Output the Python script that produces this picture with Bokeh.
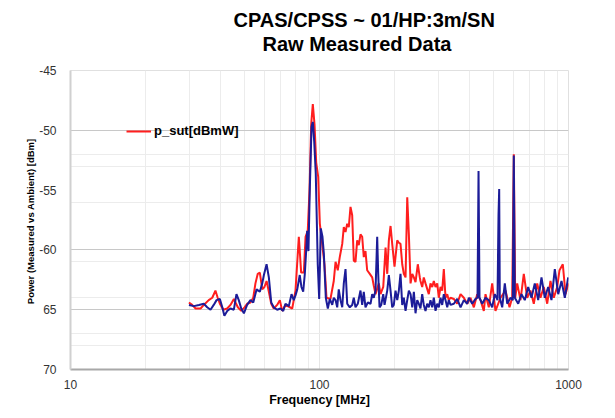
from bokeh.plotting import figure
from bokeh.models import Range1d, FixedTicker, Grid, PrintfTickFormatter, Title
from bokeh.embed import file_html
from bokeh.resources import INLINE

title_line1 = "CPAS/CPSS ~ 01/HP:3m/SN"
title_line2 = "Raw Measured Data"
x_label = "Frequency [MHz]"
y_label = "Power (Measured vs Ambient)  [dBm]"
legend_red = "p_sut[dBmW]"

x_ticks = [10, 100, 1000]
x_minor = [20, 30, 40, 50, 60, 70, 80, 90, 200, 300, 400, 500, 600, 700, 800, 900]
y_ticks = [-70, -65, -60, -55, -50, -45]
y_tick_text = {-70: "70", -65: "65", -60: "-60", -55: "-55", -50: "-50", -45: "-45"}
y_grid_major = [-50, -60, -65]
y_grid_minor = [-52, -53, -56, -61, -64, -67, -68]

red_freq = [
    29.9, 30.8, 31.8, 33.3, 34.3, 35.9, 37.1, 38.2, 39.0, 39.8,
    41.1, 42.6, 43.9, 45.3, 46.0, 47.0, 48.5, 50.0, 51.2, 52.8,
    54.2, 55.3, 56.5, 57.6, 58.9, 60.1, 61.3, 62.6, 64.0, 65.5,
    67.6, 69.3, 70.8, 73.0, 77.7, 80.1, 82.6, 84.4, 86.5, 87.9,
    89.7, 91.2, 92.6, 94.0, 95.5, 97.0, 98.8, 100.3, 102.5, 104.7,
    106.7, 110.7, 114.1, 116.0, 118.4, 120.6, 123.4, 125.2, 127.2, 129.2,
    131.1, 133.2, 135.3, 137.3, 139.5, 141.7, 143.8, 146.1, 148.4, 150.6,
    153.0, 155.4, 159.2, 162.8, 165.2, 167.9, 173.1, 175.8, 180.3, 184.2,
    187.1, 189.9, 192.9, 195.9, 200.1, 205.2, 208.3, 211.5, 214.9, 218.1,
    221.6, 225.1, 228.5, 232.1, 235.8, 239.3, 243.0, 248.2, 252.8, 254.4,
    258.5, 262.3, 266.5, 274.8, 279.1, 283.6, 287.8, 292.4, 297.0, 301.4,
    306.2, 311.0, 315.7, 320.7, 325.8, 330.6, 335.9, 346.3, 357.3, 368.5,
    379.9, 392.0, 404.1, 416.7, 429.9, 443.3, 457.0,
    464.2, 478.6, 493.8, 509.0, 533.3, 558.5, 579.6, 594.2, 603.0, 610.9,
    622.3, 641.5, 661.4, 682.5, 703.7, 725.5, 748.6, 771.8, 795.7, 821.2,
    846.5, 873.0, 900.8, 920.2, 948.7, 972.7, 1000.0,
]
red_dbm = [
    -64.4, -64.6, -64.9, -64.9, -64.6, -64.2, -64.0, -63.4, -64.0, -64.5,
    -65.0, -64.9, -64.6, -64.1, -64.4, -64.8, -65.1, -64.8, -64.5, -64.4,
    -64.0, -62.8, -62.0, -61.9, -63.3, -63.1, -62.6, -63.5, -64.5, -64.9,
    -64.6, -64.2, -65.1, -64.6, -64.9, -63.4, -58.9, -61.9, -61.9, -58.9,
    -58.4, -55.0, -49.5, -47.8, -49.5, -52.7, -53.9, -57.8, -59.5, -61.2,
    -64.0, -64.1, -62.6, -61.0, -61.7, -60.6, -59.5, -58.1, -58.5, -57.8,
    -58.1, -56.4, -57.1, -60.9, -61.0, -59.2, -59.6, -58.7, -58.9, -60.6,
    -60.1, -61.7, -62.0, -62.3, -63.0, -63.7, -62.8, -63.7, -63.1, -59.8,
    -62.0, -59.2, -58.0, -59.5, -61.4, -59.2, -59.4, -59.5, -61.2, -62.0,
    -62.3, -55.6, -58.7, -62.8, -62.0, -62.3, -62.7, -61.2, -62.3, -62.6,
    -63.1, -62.3, -62.8, -63.7, -62.8, -63.1, -62.6, -63.1, -62.8, -64.0,
    -63.1, -63.4, -61.6, -64.0, -63.7, -64.2, -64.0, -64.1, -64.5, -63.7,
    -64.0, -64.5, -64.0, -64.8, -63.7, -64.2, -65.1,
    -63.7, -64.8, -62.8, -65.1, -64.0, -63.4, -64.8, -64.0, -52.0, -64.0,
    -62.8, -64.2, -62.0, -64.0, -63.4, -64.5, -62.8, -64.0, -63.1, -64.5,
    -62.6, -64.0, -63.1, -61.7, -61.2, -63.7, -62.8,
]

blue_freq = [
    29.9, 31.3, 32.8, 34.3, 35.4, 36.5, 37.6, 38.6, 39.8, 40.7,
    41.5, 42.6, 43.9, 45.3, 46.4, 47.4, 48.5, 49.7, 51.2, 52.8,
    54.2, 55.9, 57.6, 58.9, 59.8, 61.3, 62.6, 64.0, 65.5, 67.6,
    69.7, 71.5, 73.0, 75.3, 77.2, 78.8, 80.1, 81.4, 83.3, 84.6,
    86.0, 87.3, 88.4, 89.2, 90.3, 91.4, 92.9, 94.0, 95.2, 96.6,
    98.4, 99.7, 101.2, 102.8, 104.1, 106.0, 108.0, 110.0, 112.5, 114.1,
    116.0, 117.8, 119.5, 121.4, 123.4, 125.2, 127.2, 129.2, 132.3, 135.3,
    137.3, 139.5, 142.5, 146.1, 148.4, 150.6, 153.0, 156.3, 160.3, 162.8,
    165.2, 167.9, 170.5, 172.1, 174.2, 177.0, 180.3, 182.5, 187.1, 189.9,
    192.9, 195.9, 198.8, 202.0, 205.2, 208.3, 211.5, 214.9, 218.1, 221.6,
    225.1, 228.5, 232.1, 235.8, 239.3, 243.0, 246.9, 250.5, 254.4, 258.5,
    262.3, 266.5, 270.7, 274.8, 279.1, 283.6, 287.8, 292.4, 297.0, 301.4,
    306.2, 311.0, 315.7, 320.7, 325.8, 330.6, 335.9, 346.3, 357.3, 368.5,
    379.9, 392.0, 397.8, 410.5, 423.2, 431.1, 435.2, 439.2, 450.3, 464.2,
    478.6, 493.8, 505.8, 518.6, 523.5, 526.8, 529.8, 541.7, 554.9, 567.3,
    585.0, 597.5, 603.0, 608.6, 628.1, 647.5, 667.5, 688.8, 710.2, 732.2,
    755.5, 779.0, 803.1, 828.8, 854.3, 881.1, 909.3, 937.3, 966.5, 997.0,
]
blue_dbm = [
    -64.6, -64.7, -64.6, -64.5, -64.8, -65.0, -64.6, -64.2, -64.1, -64.8,
    -65.5, -65.1, -64.9, -65.0, -63.7, -64.2, -64.9, -65.3, -64.6, -64.2,
    -64.4, -63.3, -63.5, -62.8, -62.1, -61.2, -62.3, -64.4, -64.8, -65.0,
    -64.9, -65.1, -64.5, -64.7, -63.7, -64.2, -63.8, -63.3, -62.1, -63.1,
    -63.5, -62.0, -60.1, -58.4, -60.1, -55.0, -49.7, -49.3, -50.9, -53.6,
    -61.2, -64.1, -58.2, -58.9, -60.3, -64.0, -64.9, -64.1, -64.6, -64.0,
    -64.2, -64.8, -63.3, -64.2, -64.8, -62.8, -61.6, -64.5, -64.8, -64.6,
    -64.0, -64.8, -64.5, -63.4, -64.6, -63.5, -64.8, -64.4, -64.5, -63.7,
    -64.0, -63.4, -58.9, -62.0, -64.8, -64.6, -63.7, -64.6, -63.4, -62.1,
    -63.4, -64.8, -64.6, -63.4, -64.2, -63.4, -62.0, -64.6, -64.0, -65.1,
    -64.2, -63.4, -63.7, -64.8, -63.5, -65.3, -64.2, -64.5, -64.9, -63.7,
    -64.6, -65.1, -64.5, -64.8, -64.2, -64.8, -64.0, -65.1, -64.5, -64.8,
    -64.0, -64.6, -63.7, -64.2, -64.8, -64.2, -64.6, -64.5, -64.1, -64.8,
    -64.2, -64.5, -64.0, -64.5, -64.1, -64.0, -53.4, -64.0, -64.5, -64.0,
    -64.2, -64.8, -63.7, -64.2, -57.1, -54.9, -64.0, -64.8, -62.8, -64.5,
    -64.0, -64.2, -52.1, -64.0, -64.5, -63.7, -64.2, -63.1, -64.0, -62.8,
    -64.2, -62.3, -64.0, -63.1, -64.2, -61.6, -63.7, -62.6, -64.0, -62.3,
]

FONT = "Liberation Sans"

p = figure(
    width=615, height=418,
    title=None,
    x_axis_type="log",
    x_range=Range1d(10, 1000), y_range=Range1d(-70, -45),
    output_backend="svg", toolbar_location=None,
    min_border_left=70, min_border_right=47,
    min_border_top=70, min_border_bottom=49,
)

# two-line title; panels stack outward from the plot frame
spacer = Title(text=" ", align="left", standoff=0,
               text_font=FONT, text_font_size="12px")
t2 = Title(text=title_line2, align="left", offset=192, standoff=0,
           text_font=FONT, text_font_size="20px", text_font_style="bold",
           text_color="#000000", text_line_height=0.95)
t1 = Title(text=title_line1, align="left", offset=163, standoff=0,
           text_font=FONT, text_font_size="20px", text_font_style="bold",
           text_color="#000000")
p.add_layout(spacer, "above")
p.add_layout(t2, "above")
p.add_layout(t1, "above")

p.outline_line_color = "#e0e0e0"
p.background_fill_color = "white"

# axes
p.xaxis.ticker = FixedTicker(ticks=x_ticks, minor_ticks=x_minor)
p.xaxis.formatter = PrintfTickFormatter(format="%d")
p.yaxis.ticker = FixedTicker(ticks=y_ticks)
p.yaxis.major_label_overrides = y_tick_text
for ax in (p.xaxis[0], p.yaxis[0]):
    ax.major_tick_line_color = None
    ax.minor_tick_line_color = None
    ax.major_label_text_font = FONT
    ax.major_label_text_font_size = "12px"
    ax.major_label_text_color = "#333333"
    ax.axis_label_text_font = FONT
    ax.axis_label_text_font_style = "bold"
    ax.axis_label_text_color = "#000000"
p.xaxis.major_label_standoff = 4
p.yaxis.major_label_standoff = 8
p.xaxis.axis_label = x_label
p.xaxis.axis_label_text_font_size = "12.5px"
p.xaxis.axis_label_standoff = 1
p.yaxis.axis_label = y_label
p.yaxis.axis_label_text_font_size = "9.5px"
p.yaxis.axis_label_standoff = 0
p.xaxis.axis_line_color = "#a8a8a8"
p.xaxis.axis_line_width = 2
p.yaxis.axis_line_color = "#d0d0d0"
p.yaxis.axis_line_width = 2

# grids
p.xgrid.ticker = FixedTicker(ticks=x_ticks, minor_ticks=x_minor)
p.xgrid.grid_line_color = "#e6e6e6"
p.xgrid.minor_grid_line_color = "#ececec"
p.ygrid.ticker = FixedTicker(ticks=y_grid_major)
p.ygrid.grid_line_color = "#c8c8c8"
p.ygrid.grid_line_width = 1
p.add_layout(Grid(dimension=1, ticker=FixedTicker(ticks=y_grid_minor),
                  grid_line_color="#ececec", grid_line_width=1))

p.line(red_freq, red_dbm, line_color="#ff1e1e", line_width=2, legend_label=legend_red)
p.line(blue_freq, blue_dbm, line_color="#1c1c98", line_width=2)

lg = p.legend[0]
lg.location = (56, 231)
lg.border_line_color = None
lg.background_fill_alpha = 0
lg.glyph_width = 25
lg.glyph_height = 12
lg.label_height = 12
lg.padding = 0
lg.margin = 0
lg.spacing = 0
lg.label_standoff = 3
lg.label_text_font = FONT
lg.label_text_font_size = "13px"
lg.label_text_font_style = "bold"
lg.label_text_color = "#000000"

open("out.html", "w").write(file_html(p, INLINE))
